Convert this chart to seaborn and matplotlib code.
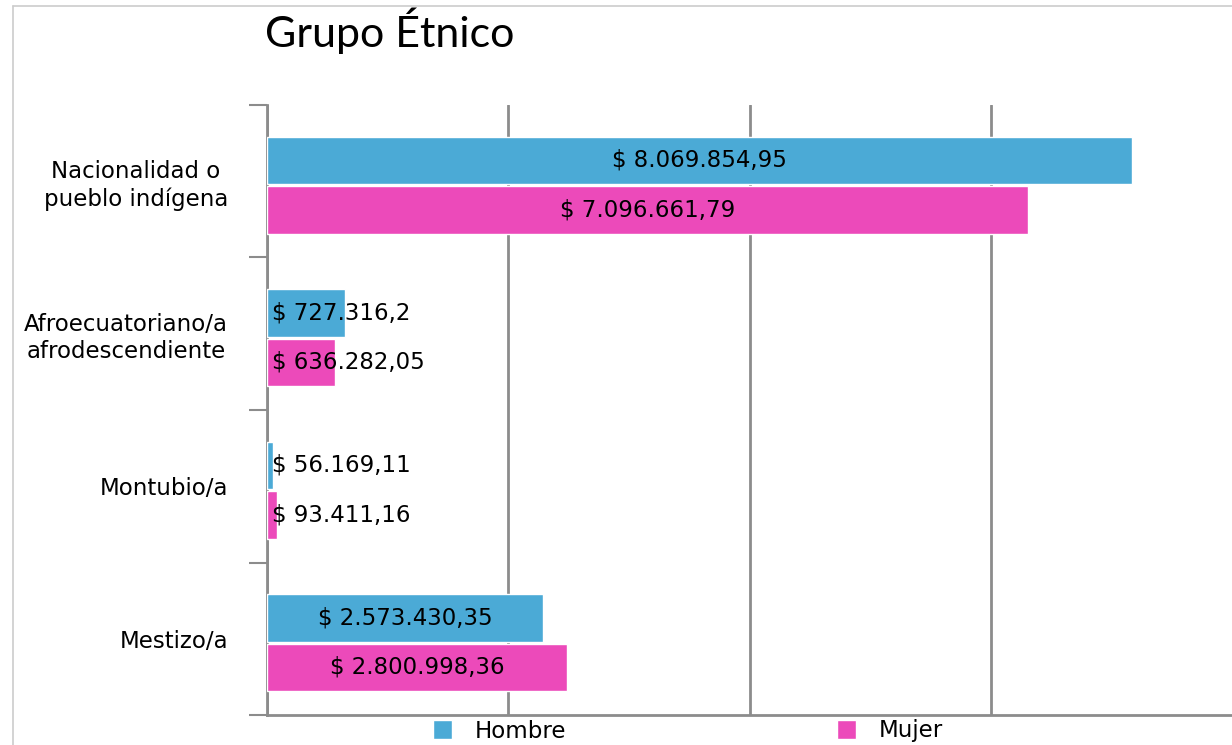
import matplotlib
matplotlib.use("Agg")
import matplotlib.pyplot as plt
import matplotlib.patches as mpatches
import pandas as pd
import seaborn as sns

# data
categorias = ["Nacionalidad o\npueblo indígena", "Afroecuatoriano/a\nafrodescendiente", "Montubio/a", "Mestizo/a"]
hombre = [8069854.95, 727316.2, 56169.11, 2573430.35]
mujer = [7096661.79, 636282.05, 93411.16, 2800998.36]
sexos = ["Hombre", "Mujer"]
colores = {"Hombre": "#4BAAD6", "Mujer": "#EC4ABA"}

df = pd.DataFrame({
    "grupo": categorias * 2,
    "sexo": ["Hombre"] * len(categorias) + ["Mujer"] * len(categorias),
    "monto": hombre + mujer,
})


def fmt_dolar(v):
    s = f"{v:,.2f}".replace(",", "X").replace(".", ",").replace("X", ".")
    s = s.rstrip("0").rstrip(",")
    return "$ " + s


sns.set_style("white")
plt.rcParams["font.family"] = ["DejaVu Sans"]
plt.rcParams["text.color"] = "black"
plt.rcParams["ytick.labelcolor"] = "black"

fig = plt.figure(figsize=(12.32, 7.45), dpi=100)
ax = fig.add_axes([267 / 1232, 30 / 745, 965 / 1232, 610 / 745])

sns.barplot(data=df, y="grupo", x="monto", hue="sexo", hue_order=sexos, palette=colores,
            orient="h", width=0.65, gap=0.04, saturation=1, edgecolor="white", linewidth=1,
            legend=False, ax=ax, zorder=3)

# bars sit a little below the middle of each band in the reference
y_top = -0.526
ax.set_xlim(0, 9.0e6)
ax.set_ylim(y_top + 4, y_top)
ax.set_xlabel("")
ax.set_ylabel("")

# vertical gridlines
ax.set_xticks([0, 2.25e6, 4.5e6, 6.75e6])
ax.set_xticklabels([])
ax.xaxis.grid(True, color="#8c8c8c", linewidth=2, zorder=0)
ax.tick_params(axis="x", length=7, width=1.5, color="#8c8c8c", direction="out")

# y ticks: labels at band centres, marks at band boundaries
ax.set_yticks([y_top + 0.5 + i for i in range(len(categorias))])
ax.set_yticklabels(categorias, fontsize=16.5, multialignment="center", color="black")
ax.set_yticks([y_top + i for i in range(5)], minor=True)
ax.tick_params(axis="y", which="major", length=0, pad=28)
ax.tick_params(axis="y", which="minor", length=13, width=1.5, color="#8c8c8c", left=True)

for side in ["top", "right"]:
    ax.spines[side].set_visible(False)
for side in ["left", "bottom"]:
    ax.spines[side].set_color("#8c8c8c")
    ax.spines[side].set_linewidth(2)

# value labels
for cont in ax.containers:
    for bar in cont:
        v = bar.get_width()
        yc = bar.get_y() + bar.get_height() / 2
        if v > 1.5e6:
            ax.text(v / 2, yc, fmt_dolar(v), ha="center", va="center", fontsize=16.5,
                    color="black", zorder=5)
        else:
            ax.text(0.05e6, yc, fmt_dolar(v), ha="left", va="center", fontsize=16.5,
                    color="black", zorder=5)

fig.text(265 / 1232, 1 - 47 / 745, "Grupo Étnico", fontsize=31, family=["Lato", "DejaVu Sans"],
         color="black", ha="left", va="baseline")

handles = [mpatches.Patch(facecolor=colores[s], edgecolor="white", label=s) for s in sexos]
fig.legend(handles=handles, loc="center", bbox_to_anchor=(688 / 1232, 1 - 731 / 745), ncol=2,
           frameon=False, fontsize=16.5, handlelength=0.85, handleheight=0.9,
           handletextpad=1.0, columnspacing=11.8, borderaxespad=0)

# light frame at top/left of the picture
fig.add_artist(plt.Line2D([13 / 1232, 1], [1 - 6 / 745, 1 - 6 / 745], transform=fig.transFigure,
                          color="#cccccc", linewidth=1.2))
fig.add_artist(plt.Line2D([13 / 1232, 13 / 1232], [0, 1 - 6 / 745], transform=fig.transFigure,
                          color="#cccccc", linewidth=1.2))

fig.savefig("out.png", dpi=100)
